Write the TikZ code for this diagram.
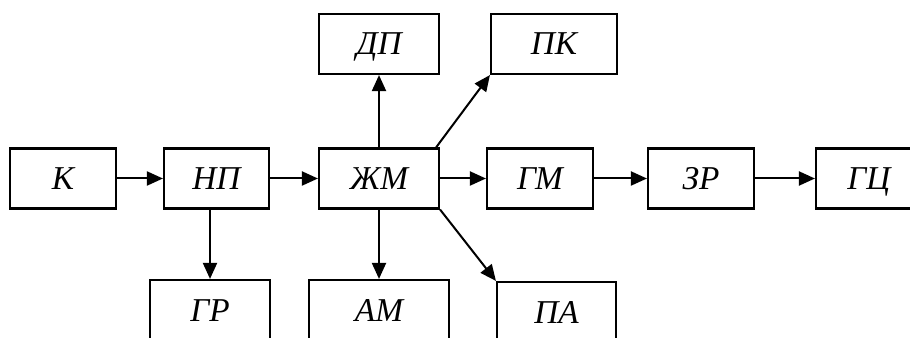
\documentclass[tikz,border=0pt]{standalone}
\usepackage{fontspec}
\setmainfont{Liberation Serif}
\usetikzlibrary{arrows.meta,calc}
\tikzset{
  box/.style={draw, line width=1.6pt, rectangle, inner sep=0pt,
    minimum height=45pt, text height=16.5pt, text depth=0pt,
    font=\itshape\fontsize{25}{28}\selectfont},
  link/.style={line width=1.5pt, -{Triangle[length=12pt,width=10.5pt]}}
}
\begin{document}
\begin{tikzpicture}[x=0.75pt,y=-0.75pt]
\useasboundingbox (0,0) rectangle (910,338);
\clip (0,0) rectangle (910,338);
% main chain
\node[box, minimum width=79.5pt]  (k)  at (63,178.5)  {К};
\node[box, minimum width=78.75pt] (np) at (216.5,178.5) {НП};
\node[box, minimum width=90pt]    (zm) at (379,178.5) {ЖМ};
\node[box, minimum width=79.5pt]  (gm) at (540,178.5) {ГМ};
\node[box, minimum width=79.5pt]  (zr) at (701,178.5) {ЗР};
\node[box, minimum width=79.5pt]  (gc) at (869,178.5) {ГЦ};
% upper row
\node[box, minimum width=90pt]    (dp) at (379,44)    {ДП};
\node[box, minimum width=94.5pt]  (pk) at (554,44)    {ПК};
% lower row
\node[box, minimum width=90pt]    (gr) at (210,310)   {ГР};
\node[box, minimum width=105pt]   (am) at (379,310)   {АМ};
\node[box, minimum width=89.25pt] (pa) at (556.5,312) {ПА};
% connectors
\draw[link] (k) -- (np);
\draw[link] (np) -- (zm);
\draw[link] (zm) -- (gm);
\draw[link] (gm) -- (zr);
\draw[link] (zr) -- (gc);
\draw[link] (zm) -- (dp);
\draw[link] ($(zm.north east)+(-4,0)$) -- (pk.south west);
\draw[link] (np.south -| gr.north) -- (gr.north);
\draw[link] (zm) -- (am);
\draw[link] (zm.south east) -- (pa.north west);
\end{tikzpicture}
\end{document}
